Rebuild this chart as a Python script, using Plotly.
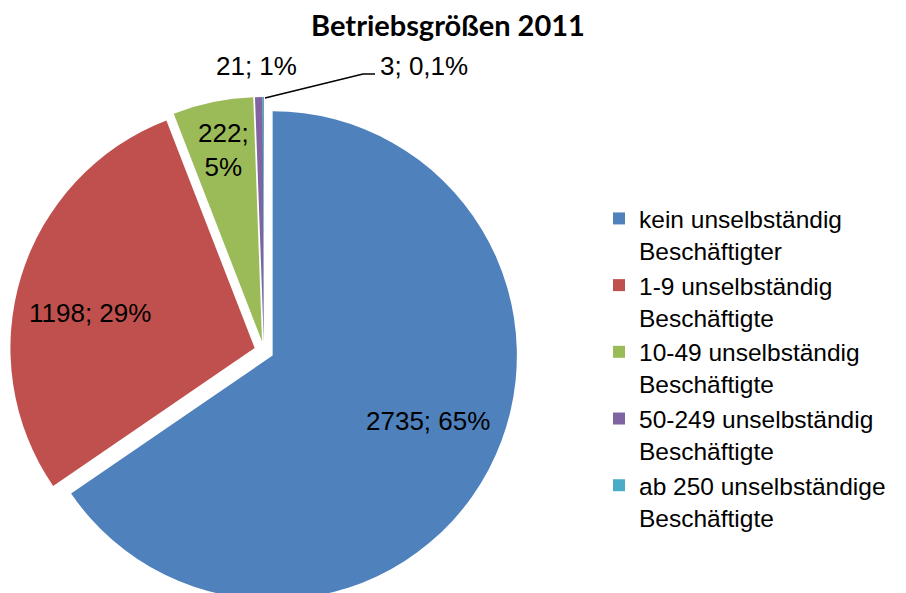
import plotly.graph_objects as go

# ---- data ----
categories = [
    "kein unselbständig<br>Beschäftigter",
    "1-9 unselbständig<br>Beschäftigte",
    "10-49 unselbständig<br>Beschäftigte",
    "50-249 unselbständig<br>Beschäftigte",
    "ab 250 unselbständige<br>Beschäftigte",
]
values = [2735, 1198, 222, 21, 3]
colors = ["#4F81BD", "#C0504D", "#9BBB59", "#8064A2", "#4BACC6"]
pct_decimals = [0, 0, 0, 0, 1]
label_sep = ["; ", "; ", ";<br>", "; ", "; "]
title_text = "Betriebsgrößen 2011"

# ---- layout constants (pixels) ----
W, H = 906, 612
FONT = "Arial, Liberation Sans, sans-serif"
# label anchor positions (x, y, xanchor)
label_pos = [(428, 421, "center"), (90, 313, "center"), (223, 150, "center"),
             (256, 66, "center"), (378, 66, "left")]

total = sum(values)


def fmt_pct(v, d):
    p = 100.0 * v / total
    s = f"{p:.{d}f}".replace(".", ",")
    return s + "%"


texts = [f"{v}{sep}{fmt_pct(v, d)}" for v, sep, d in zip(values, label_sep, pct_decimals)]

fig = go.Figure(go.Pie(
    labels=categories,
    values=values,
    marker=dict(colors=colors, line=dict(width=0)),
    sort=False,
    direction="clockwise",
    rotation=0,
    pull=[0.04] * len(values),
    textinfo="none",
    hoverinfo="label+value+percent",
    domain=dict(x=[10 / W, 518 / W], y=[(H - 605) / H, (H - 97) / H]),
))

annotations = []
for t, (px, py, xa) in zip(texts, label_pos):
    annotations.append(dict(
        x=px / W, y=1 - py / H, xref="paper", yref="paper",
        text=t, showarrow=False, xanchor=xa, yanchor="middle",
        font=dict(family=FONT, size=26, color="black"), align="center",
    ))

# leader line for smallest slice label
path = f"M {265 / W},{1 - 98 / H} L {363 / W},{1 - 74 / H} L {375 / W},{1 - 74 / H}"
shapes = [dict(type="path", xref="paper", yref="paper", path=path,
               line=dict(color="black", width=1.5))]

fig.update_layout(
    width=W, height=H,
    margin=dict(l=0, r=0, t=0, b=0),
    paper_bgcolor="white", plot_bgcolor="white",
    title=dict(text=f"<b>{title_text}</b>", x=448 / W, xanchor="center",
               y=1 - 26 / H, yanchor="middle", yref="container",
               font=dict(family="Lato, Open Sans, sans-serif", size=29, color="black")),
    legend=dict(x=599 / W, xanchor="left", y=1 - 196 / H, yanchor="top",
                valign="top",
                font=dict(family=FONT, size=24.5, color="black"),
                bgcolor="rgba(0,0,0,0)", traceorder="normal", tracegroupgap=0),
    annotations=annotations,
    shapes=shapes,
    showlegend=True,
)

fig.write_html(
    "out.html",
    post_script="document.documentElement.style.overflow='hidden';document.body.style.overflow='hidden';",
)
